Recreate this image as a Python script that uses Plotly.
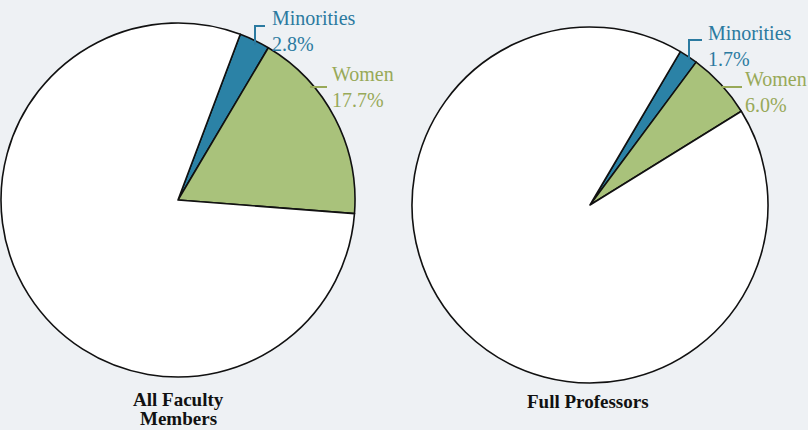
import plotly.graph_objects as go

# ---- data ----
group_lines = [["All Faculty", "Members"], ["Full Professors"]]
categories = ["Minorities", "Women", "Other"]
all_faculty = [2.8, 17.7, 79.5]
full_professors = [1.7, 6.0, 92.3]

W, H = 808, 430
BG = "#eef1f4"
MIN_FILL = "#2b82a6"
WOM_FILL = "#a9c27b"
MIN_TXT = "#2b7aa0"
WOM_TXT = "#98a958"
SERIF = "Liberation Serif, Times New Roman, serif"

def px(x):
    return x / W

def py(y):
    return 1 - y / H

fig = go.Figure()

def add_pie(values, cx, cy, r, rot):
    fig.add_trace(go.Pie(
        labels=categories, values=values, sort=False, direction="clockwise",
        rotation=rot, textinfo="none", hoverinfo="label+percent",
        marker=dict(colors=[MIN_FILL, WOM_FILL, "#ffffff"],
                    line=dict(color="#111111", width=1.6)),
        domain=dict(x=[px(cx - r), px(cx + r)], y=[py(cy + r), py(cy - r)]),
        showlegend=False,
    ))

add_pie(all_faculty, 178, 200, 177, 20.6)
add_pie(full_professors, 590, 205, 178, 30.5)

annotations = []
shapes = []

def label(x, y, name, val, color):
    annotations.append(dict(
        x=px(x), y=py(y), xref="paper", yref="paper", xanchor="left", yanchor="middle",
        text=f"{name}<br>{val:.1f}%", showarrow=False, align="left",
        font=dict(family=SERIF, size=20, color=color)))

def line(x0, y0, x1, y1, color):
    shapes.append(dict(type="line", xref="paper", yref="paper",
                       x0=px(x0), y0=py(y0), x1=px(x1), y1=py(y1),
                       line=dict(color=color, width=2)))

# pie 1 labels
label(270, 31, categories[0], all_faculty[0], MIN_TXT)
line(255, 45, 255, 26, MIN_TXT)
line(254, 26, 265, 26, MIN_TXT)
label(330, 87, categories[1], all_faculty[1], WOM_TXT)
line(310, 87, 327, 87, WOM_TXT)

# pie 2 labels
label(706, 46, categories[0], full_professors[0], MIN_TXT)
line(689, 60, 689, 40, MIN_TXT)
line(688, 40, 702, 40, MIN_TXT)
label(743, 92, categories[1], full_professors[1], WOM_TXT)
line(722, 87, 742, 87, WOM_TXT)

# group titles
def title(x, y0, lines):
    for i, t in enumerate(lines):
        annotations.append(dict(x=px(x), y=py(y0 + 19 * i), xref="paper", yref="paper",
                                xanchor="center", yanchor="middle", text=f"<b>{t}</b>",
                                showarrow=False,
                                font=dict(family=SERIF, size=19, color="#111111")))

title(178, 399, group_lines[0])
title(588, 401, group_lines[1])

fig.update_layout(
    width=W, height=H, margin=dict(l=0, r=0, t=0, b=0),
    paper_bgcolor=BG, plot_bgcolor=BG,
    annotations=annotations, shapes=shapes,
)

fig.write_html("out.html", config={"displayModeBar": False})

# remove the default page margin so the figure fills the window
with open("out.html", "r", encoding="utf-8") as f:
    html = f.read()
html = html.replace("<head>", "<head><style>html,body{margin:0;padding:0;overflow:hidden;background:%s;}</style>" % BG, 1)
with open("out.html", "w", encoding="utf-8") as f:
    f.write(html)
